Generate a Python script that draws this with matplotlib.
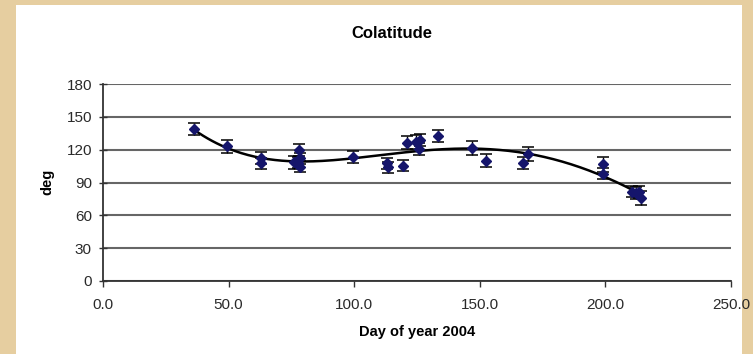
import numpy as np
import matplotlib.pyplot as plt
from matplotlib.patches import Rectangle
from matplotlib.ticker import FormatStrFormatter

plt.rcParams['font.family'] = ['Liberation Sans', 'DejaVu Sans']

# colatitude measurements: day of year, angle (deg), error (deg)
day = [36.3, 49.2, 62.7, 62.9, 75.9, 78.0, 78.3, 78.5, 77.8, 99.5,
       113.2, 113.4, 119.5, 121.0, 124.5, 126.3, 125.7, 133.2, 147.0, 152.5,
       167.0, 169.3, 199.0, 199.2, 210.5, 212.3, 213.5, 214.0]
colat = [138.5, 123.0, 112.0, 107.5, 108.5, 119.5, 112.0, 104.5, 108.0, 113.0,
         107.5, 104.0, 105.5, 126.5, 127.0, 128.5, 121.0, 132.5, 121.5, 110.0,
         108.0, 116.0, 106.5, 98.0, 81.5, 80.0, 81.0, 75.5]
err = [5.5, 6.0, 5.5, 5.0, 6.0, 5.5, 5.0, 5.0, 5.0, 5.5,
       5.0, 5.0, 5.0, 6.0, 6.0, 5.5, 5.5, 5.5, 6.0, 6.0,
       5.5, 6.0, 7.0, 5.0, 5.0, 5.5, 5.5, 6.5]

fig = plt.figure(figsize=(7.53, 3.54), dpi=100)
fig.patch.set_facecolor('#e6cea0')
fig.patches.append(Rectangle((16 / 753, 0), 726 / 753, 349 / 354,
                             transform=fig.transFigure, facecolor='white',
                             edgecolor='none', zorder=-10))

ax = fig.add_axes([103 / 753, 73 / 354, 628 / 753, 197 / 354])
ax.set_facecolor('white')

# polynomial trendline through the data
coef = np.polyfit(day, colat, 4)
xs = np.linspace(min(day), max(day), 200)
ax.plot(xs, np.polyval(coef, xs), color='black', lw=1.8, zorder=3)

ax.errorbar(day, colat, yerr=err, fmt='D', color='#15156b', markersize=5,
            ecolor='black', elinewidth=1, capsize=4.3, capthick=1.1, zorder=4)

ax.set_xlim(0, 250)
ax.set_ylim(0, 180)
ax.set_xticks(np.arange(0, 251, 50))
ax.set_yticks(np.arange(0, 181, 30))
ax.xaxis.set_major_formatter(FormatStrFormatter('%.1f'))
ax.yaxis.grid(True, color='#666666', lw=1.5)
ax.set_axisbelow(True)
for s in ['top', 'right']:
    ax.spines[s].set_visible(False)
for s in ['left', 'bottom']:
    ax.spines[s].set_color('#333333')
    ax.spines[s].set_linewidth(1.3)
ax.tick_params(axis='y', direction='inout', length=6, width=1, colors='#333333',
               labelsize=11, labelcolor='#2a2a2a', pad=5)
ax.tick_params(axis='x', direction='out', length=4, width=1, colors='#333333',
               labelsize=11, labelcolor='#2a2a2a', pad=8)

fig.text(392 / 753, 1 - 33 / 354, 'Colatitude', ha='center', va='center',
         fontsize=12, fontweight='bold')
fig.text(417 / 753, 22 / 354, 'Day of year 2004', ha='center', va='center',
         fontsize=10.5, fontweight='bold')
fig.text(47 / 753, 1 - 182 / 354, 'deg', ha='center', va='center',
         rotation=90, fontsize=10.5, fontweight='bold')

fig.savefig('out.png', dpi=100, facecolor=fig.get_facecolor())
